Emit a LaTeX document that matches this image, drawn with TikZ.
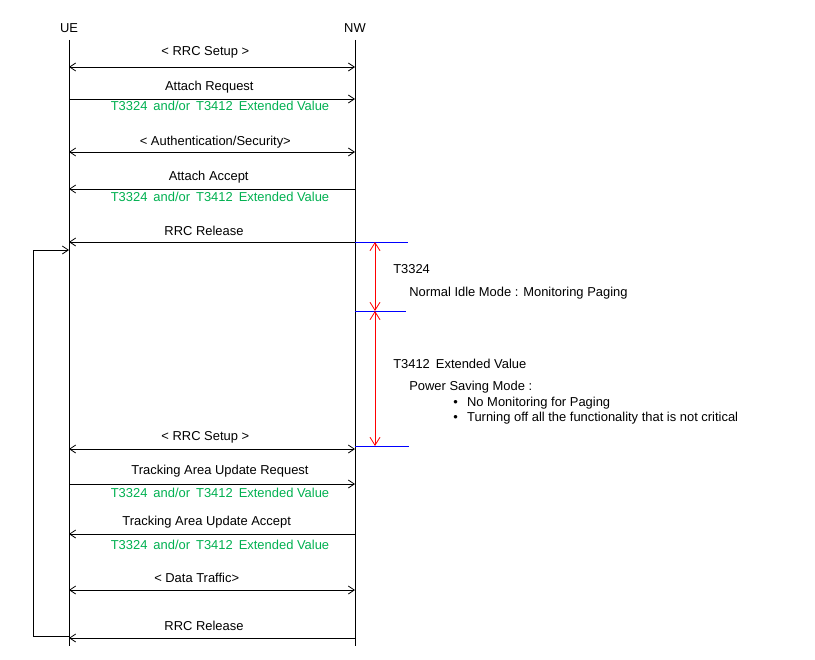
\documentclass[tikz,border=0pt]{standalone}
\usepackage{fontspec}
\setmainfont{Liberation Sans}
\usetikzlibrary{arrows.meta}
\definecolor{valgreen}{RGB}{0,176,80}

\begin{document}
\begin{tikzpicture}[x=0.75pt, y=-0.75pt, font=\fontsize{9.7}{11}\selectfont,
    >={Straight Barb[length=4.5pt, width=6pt]},
    lbl/.style={inner sep=0pt},
    val/.style={inner sep=0pt, text=valgreen},
    msg/.style={draw, line width=0.6pt},
    timer/.style={draw=red, line width=0.6pt, {Straight Barb[length=6pt, width=7.5pt]}-{Straight Barb[length=6pt, width=7.5pt]}},
    bound/.style={draw=blue, line width=0.6pt}]
				\useasboundingbox (0,0) rectangle (815,660);
				% lifelines
				\node[lbl] (UE) at (69, 28) {UE};
				\node[lbl] (NW) at (355, 28) {NW};
				\coordinate (UEend) at (69, 646);
				\coordinate (NWend) at (355, 646);
				\draw[msg] (69, 40) -- (UEend);
				\draw[msg] (355, 40) -- (NWend);
				% points on lifelines
				\foreach \n/\y in {1/67, 2/99, 3/152, 4/189, 5/242, 6/449, 7/484, 8/534, 9/590, 10/638}{
					\coordinate (ue\n) at (69, \y);
					\coordinate (nw\n) at (355, \y);
				}
				% messages
				\draw[msg, <->] (ue1) -- (nw1) node[midway, lbl, yshift=11pt, xshift=-5pt] {< RRC Setup >};
				\draw[msg, ->] (ue2) -- (nw2) node[midway, lbl, yshift=9pt, xshift=-2pt] {Attach Request};
				\node[val] (V1) at (220, 106) {T3324\hspace{4.5pt}and/or\hspace{4.5pt}T3412\hspace{4.5pt}Extended Value};
				\draw[msg, <->] (ue3) -- (nw3) node[midway, lbl, yshift=7.5pt, xshift=2.5pt] {< Authentication/Security>};
				\draw[msg, <-] (ue4) -- (nw4) node[midway, lbl, yshift=9pt, xshift=-2.5pt] {Attach Accept};
				\node[val] (V2) at (220, 197) {T3324\hspace{4.5pt}and/or\hspace{4.5pt}T3412\hspace{4.5pt}Extended Value};
				\draw[msg, <-] (ue5) -- (nw5) node[midway, lbl, yshift=8.5pt, xshift=-6pt] {RRC Release};
				\draw[msg, <->] (ue6) -- (nw6) node[midway, lbl, yshift=9pt, xshift=-5pt] {< RRC Setup >};
				\draw[msg, ->] (ue7) -- (nw7) node[midway, lbl, yshift=9.5pt, xshift=6pt] {Tracking Area Update Request};
				\node[val] (V3) at (220, 493) {T3324\hspace{4.5pt}and/or\hspace{4.5pt}T3412\hspace{4.5pt}Extended Value};
				\draw[msg, <-] (ue8) -- (nw8) node[midway, lbl, yshift=9pt, xshift=-4pt] {Tracking Area Update Accept};
				\node[val] (V4) at (220, 545) {T3324\hspace{4.5pt}and/or\hspace{4.5pt}T3412\hspace{4.5pt}Extended Value};
				\draw[msg, <->] (ue9) -- (nw9) node[midway, lbl, yshift=9pt, xshift=-11.5pt] {< Data Traffic>};
				\draw[msg, <-] (ue10) -- (nw10) node[midway, lbl, yshift=9pt, xshift=-6pt] {RRC Release};
				% timers
				\coordinate (M1) at (408, 242);
				\coordinate (M2) at (406, 311);
				\coordinate (M3) at (409, 446);
				\draw[bound] (nw5) -- (M1);
				\draw[bound] (355, 311) -- (M2);
				\draw[bound] (355, 446) -- (M3);
				\draw[timer] (375, 242) -- (375, 311);
				\draw[timer] (375, 311) -- (375, 446);
				\node[lbl, anchor=west] (T1) at (393, 269) {T3324};
				\node[lbl, anchor=west] (N1) at (409, 293) {Normal Idle Mode : Monitoring Paging};
				\node[lbl, anchor=west] (T2) at (393, 364) {T3412\hspace{4.5pt}Extended Value};
				\node[lbl, anchor=west] (P1) at (409, 387) {Power Saving Mode :};
				\node[lbl, anchor=west] (B1) at (453, 403) {\textbullet\hspace{7pt}No Monitoring for Paging};
				\node[lbl, anchor=west] (B2) at (453, 418) {\textbullet\hspace{7pt}Turning off all the functionality that is not critical};
				% loop back
				\coordinate (L1) at (33, 636);
				\coordinate (L2) at (33, 250);
				\coordinate (L3) at (69, 250);
				\draw[msg, ->] (69, 636) -- (L1) -- (L2) -- (L3);
			\end{tikzpicture}
\end{document}
